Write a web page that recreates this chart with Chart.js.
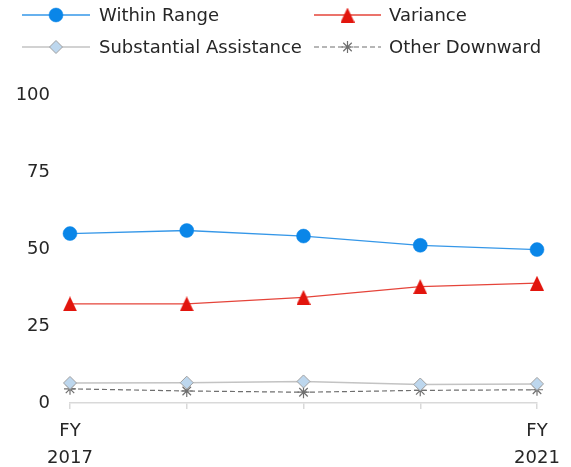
<!DOCTYPE html>
<html>
<head>
<meta charset="utf-8">
<style>
  html, body { margin: 0; padding: 0; background: #ffffff; }
  #wrap { width: 571px; height: 467px; position: relative; }
</style>
<script src="https://cdn.jsdelivr.net/npm/chart.js@4/dist/chart.umd.min.js"></script>
</head>
<body>
<div id="wrap"><canvas id="chart" width="571" height="467"></canvas></div>
<script>
// Fiscal years on the x axis
const years = ['FY 2017', 'FY 2018', 'FY 2019', 'FY 2020', 'FY 2021'];

// Share of sentences (%) by position relative to the guideline range
const withinRange = [55.0, 56.0, 54.2, 51.2, 49.8];
const variance = [32.2, 32.2, 34.3, 37.8, 38.9];
const substantialAssistance = [6.5, 6.6, 7.0, 6.0, 6.2];
const otherDownward = [4.6, 3.9, 3.5, 4.1, 4.3];

// Y axis ticks
const yTicks = [0, 25, 50, 75, 100];

const FONT = '"DejaVu Sans", sans-serif';
const TEXT = '#262626';

// Bbox-centred triangle marker
function triangleMarker(color) {
  const c = document.createElement('canvas');
  c.width = 14; c.height = 15;
  const g = c.getContext('2d');
  g.fillStyle = color;
  g.beginPath();
  g.moveTo(7, 0);
  g.lineTo(14, 15);
  g.lineTo(0, 15);
  g.closePath();
  g.fill();
  return c;
}
const redTriangle = triangleMarker('#e2150d');

// Two-column legend drawn above the plot
const legendPlugin = {
  id: 'twoColumnLegend',
  afterDraw(chart) {
    const ctx = chart.ctx;
    const cols = [{ x0: 22, x1: 90, tx: 99 }, { x0: 314, x1: 381, tx: 389 }];
    const rows = [15, 47];
    chart.data.datasets.forEach((ds, i) => {
      const col = cols[i % 2];
      const y = rows[Math.floor(i / 2)];
      ctx.save();
      ctx.strokeStyle = ds.borderColor;
      ctx.lineWidth = ds.borderWidth;
      ctx.setLineDash(ds.borderDash || []);
      ctx.beginPath();
      ctx.moveTo(col.x0, y);
      ctx.lineTo(col.x1, y);
      ctx.stroke();
      ctx.setLineDash([]);
      ctx.fillStyle = ds.pointBackgroundColor;
      ctx.strokeStyle = ds.pointBorderColor;
      ctx.lineWidth = ds.pointBorderWidth;
      Chart.helpers.drawPoint(ctx, {
        pointStyle: ds.pointStyle,
        radius: ds.pointRadius,
        rotation: 0,
        borderWidth: ds.pointBorderWidth
      }, (col.x0 + col.x1) / 2, y);
      ctx.fillStyle = TEXT;
      ctx.font = '18px ' + FONT;
      ctx.textBaseline = 'middle';
      ctx.textAlign = 'left';
      ctx.fillText(ds.label, col.tx, y + 1);
      ctx.restore();
    });
  }
};

new Chart(document.getElementById('chart'), {
  type: 'line',
  data: {
    labels: years,
    datasets: [
      {
        label: 'Within Range',
        data: withinRange,
        borderColor: '#3597e8',
        borderWidth: 1.3,
        pointStyle: 'circle',
        pointRadius: 7,
        pointBackgroundColor: '#0a86e8',
        pointBorderColor: '#0a86e8',
        pointBorderWidth: 0.5
      },
      {
        label: 'Variance',
        data: variance,
        borderColor: '#e5443a',
        borderWidth: 1.3,
        pointStyle: redTriangle,
        pointRadius: 7,
        pointBackgroundColor: '#e2150d',
        pointBorderColor: '#e2150d',
        pointBorderWidth: 0
      },
      {
        label: 'Substantial Assistance',
        data: substantialAssistance,
        borderColor: '#c3c3c3',
        borderWidth: 1.5,
        pointStyle: 'rectRot',
        pointRadius: 6.5,
        pointBackgroundColor: '#bdd7ee',
        pointBorderColor: '#a0a0a0',
        pointBorderWidth: 1
      },
      {
        label: 'Other Downward',
        data: otherDownward,
        borderColor: '#6f6f6f',
        borderWidth: 1.2,
        borderDash: [5, 3],
        pointStyle: 'star',
        pointRadius: 6,
        pointBackgroundColor: '#6f6f6f',
        pointBorderColor: '#6f6f6f',
        pointBorderWidth: 1.2
      }
    ]
  },
  options: {
    responsive: false,
    animation: false,
    devicePixelRatio: 1,
    layout: { padding: { top: 95, left: 0, right: 34, bottom: 0 } },
    elements: { line: { tension: 0 } },
    datasets: { line: { clip: false } },
    plugins: {
      legend: { display: false },
      tooltip: { enabled: false }
    },
    scales: {
      x: {
        offset: false,
        border: { display: true, color: '#d9d9d9', width: 1.5 },
        grid: {
          display: true,
          drawOnChartArea: false,
          drawTicks: true,
          tickLength: 6,
          color: '#d9d9d9',
          lineWidth: 1.5
        },
        ticks: {
          autoSkip: false,
          maxRotation: 0,
          padding: 9,
          color: TEXT,
          font: { family: FONT, size: 18, lineHeight: 1.5 },
          callback(value, index) {
            if (index === 0 || index === years.length - 1) {
              return years[index].split(' ');
            }
            return '';
          }
        },
        afterFit(scale) { scale.height = 64; }
      },
      y: {
        min: 0,
        max: 100,
        border: { display: false },
        grid: { display: false, drawTicks: false },
        afterBuildTicks(scale) { scale.ticks = yTicks.map(v => ({ value: v })); },
        ticks: {
          padding: 20,
          color: TEXT,
          font: { family: FONT, size: 18 }
        },
        afterFit(scale) { scale.width = 70; }
      }
    }
  },
  plugins: [legendPlugin]
});
</script>
</body>
</html>
